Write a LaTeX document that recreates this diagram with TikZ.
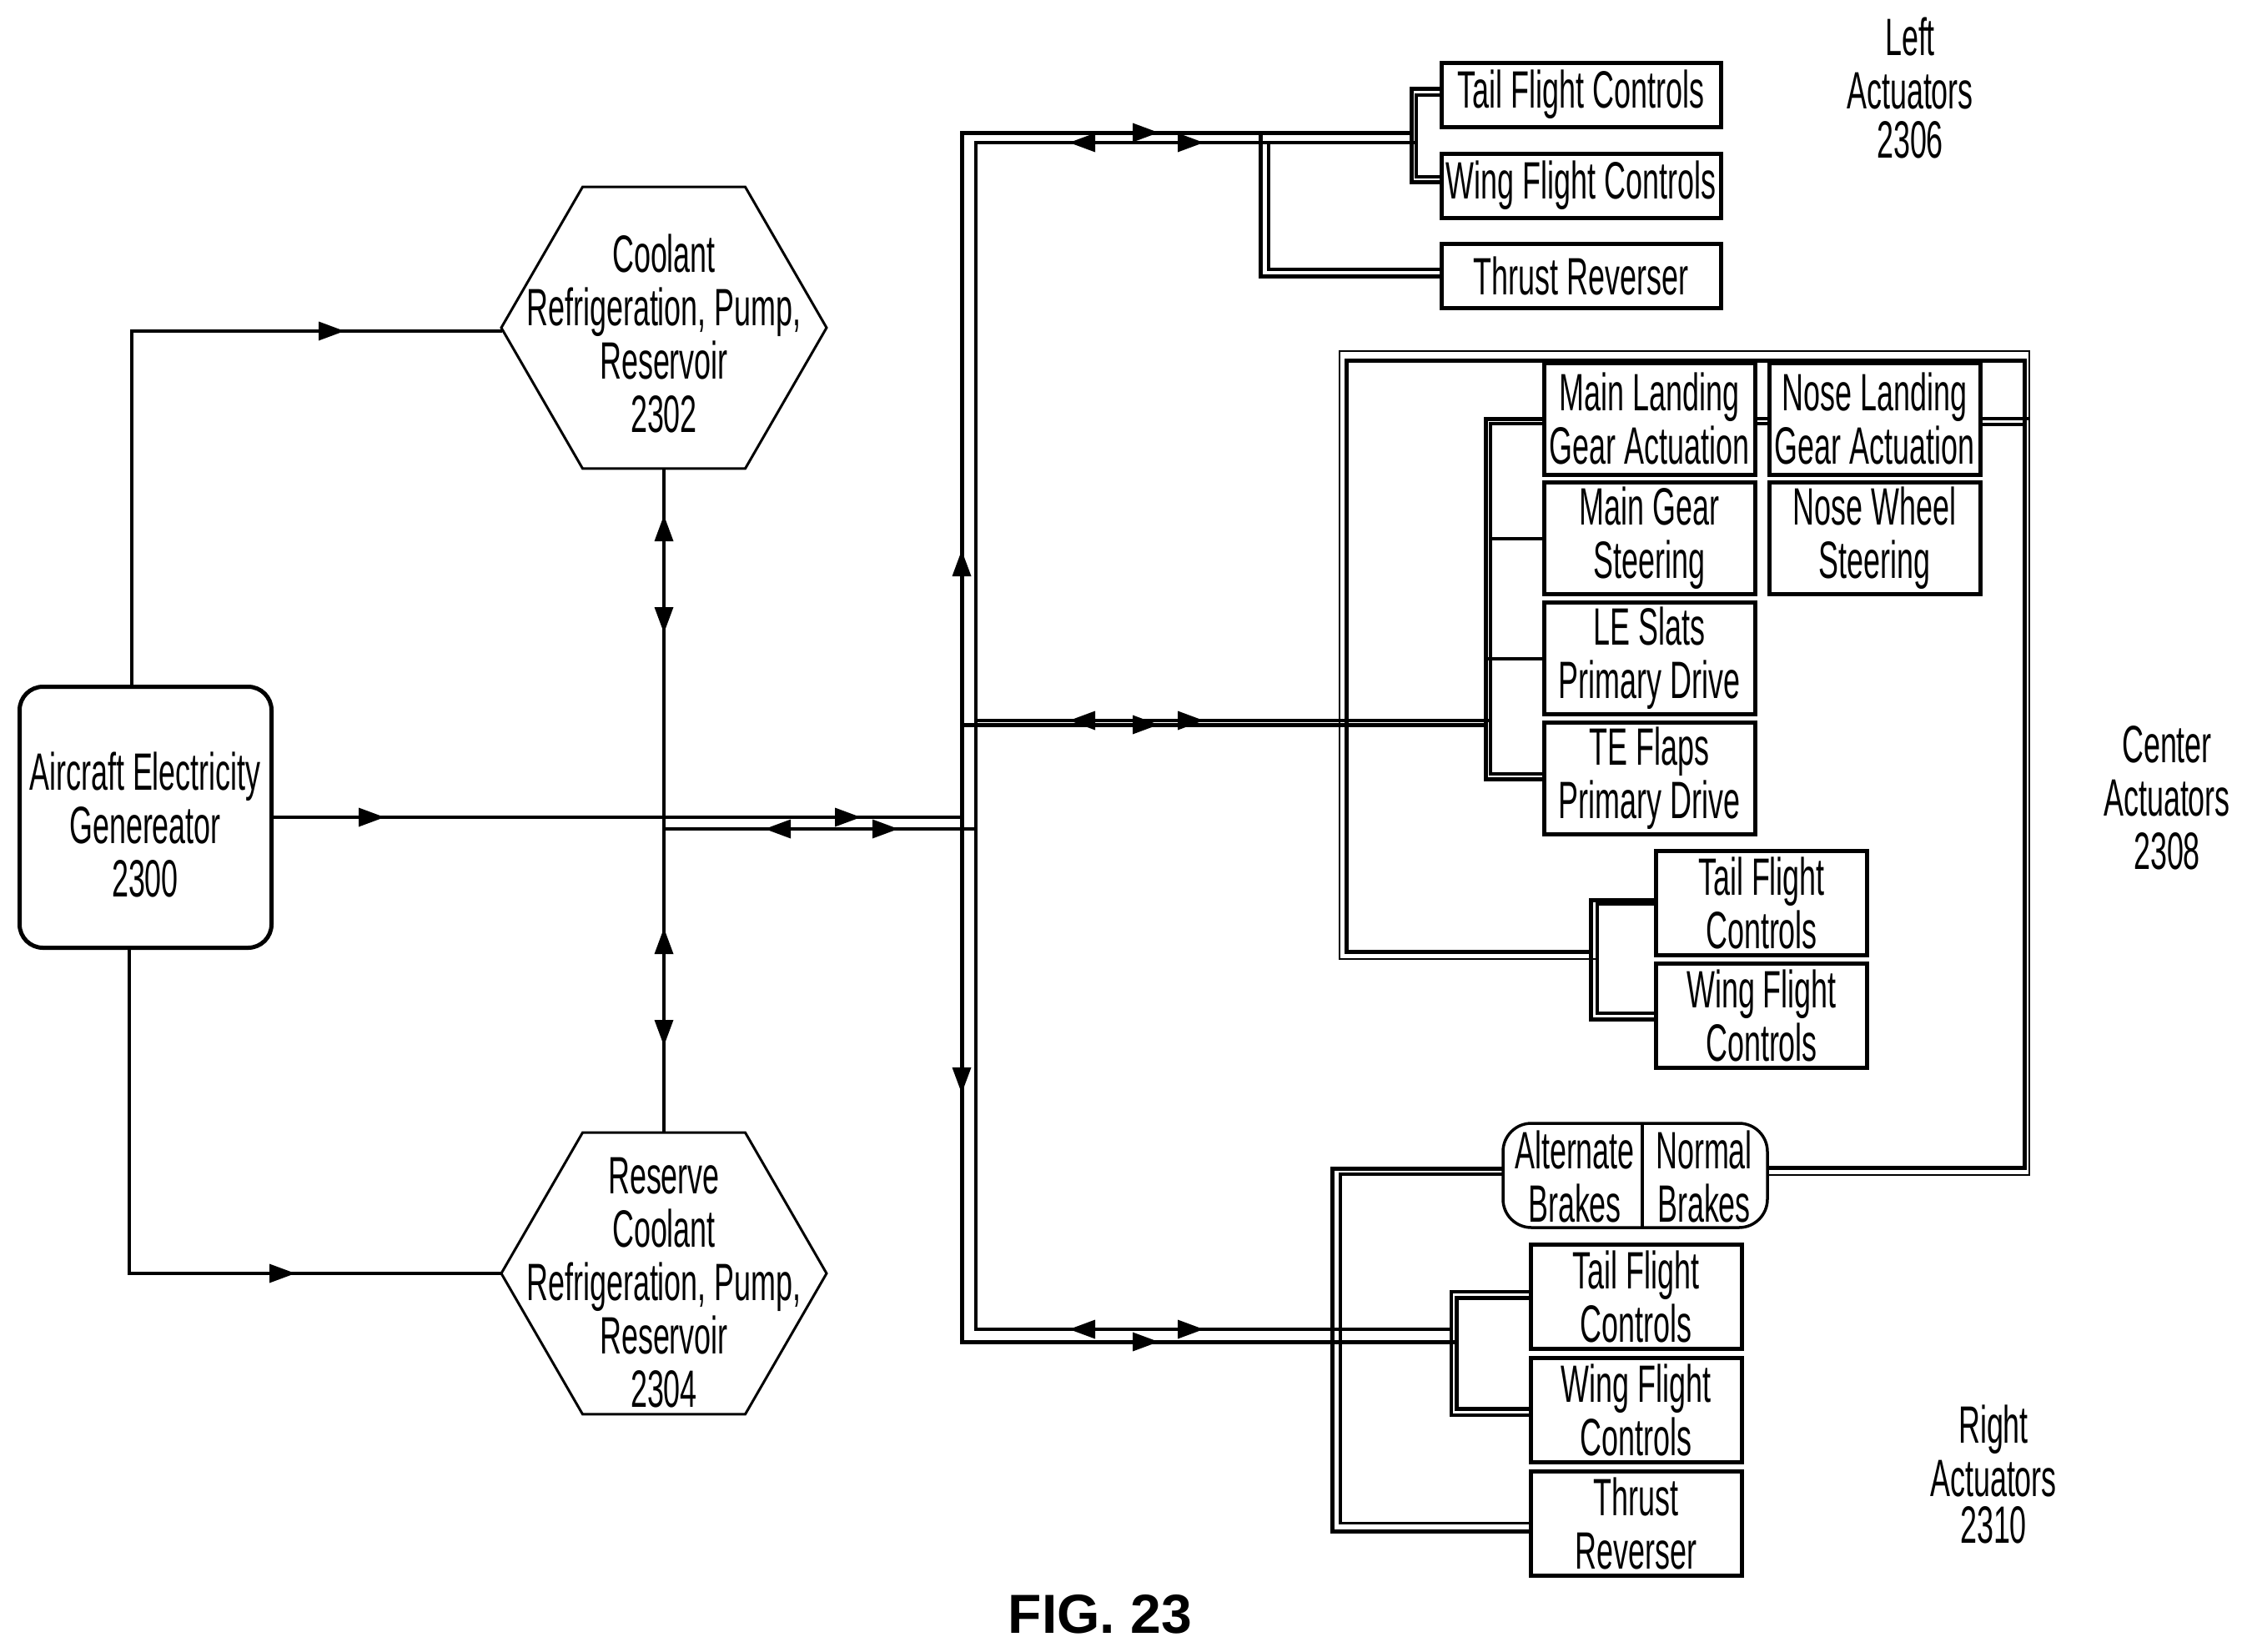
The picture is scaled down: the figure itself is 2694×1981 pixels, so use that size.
\documentclass[tikz,border=0pt]{standalone}
\usepackage{fontspec}
\usetikzlibrary{shapes.geometric}
\newfontfamily\actfont[FakeStretch=0.57]{Liberation Sans}
\newfontfamily\figfont{Liberation Sans}
\newcommand{\tipat}[3]{\fill[shift={(#1,#2)},rotate=#3] (0,-11.5) -- (31,0) -- (0,11.5) -- cycle;}
\begin{document}
\begin{tikzpicture}[x=0.5pt,y=-0.5pt,
           text_style/.style={font=\actfont\fontsize{31.5}{32}\selectfont,align=center,inner sep=0pt},
           box_style/.style={text_style,rectangle,draw=black,line width=2.5pt,minimum width=126.5pt,minimum height=62.5pt,outer sep=0pt},
           wide_box_style/.style={box_style,minimum width=167.5pt,minimum height=38.5pt},
           tall_box_style/.style={box_style,minimum height=67pt},
           hex_style/.style={regular polygon,regular polygon sides=6,draw=black,line width=1.5pt,minimum size=195pt,inner sep=0pt,outer sep=0pt},
           gen_style/.style={rectangle,rounded corners=14pt,draw=black,line width=2.5pt,minimum width=151pt,minimum height=156.5pt,outer sep=0pt},
           brake_style/.style={rectangle,rounded corners=17pt,draw=black,line width=1.75pt,minimum width=158.5pt,minimum height=62.5pt,outer sep=0pt},
           edge_style/.style={draw=black,line width=2pt},
           thick_style/.style={draw=black,line width=2.5pt},
           thin_style/.style={draw=black,line width=1.75pt},
           hair_style/.style={draw=black,line width=1.35pt}]
            \useasboundingbox (0,0) rectangle (2694,1981);
            % sources
            \node[gen_style] (gen) at (174.5, 980) {};
            \node[text_style] (gen_text) at (174, 989) {Aircraft Electricity\\Genereator\\2300};
            \node[hex_style] (hex_top) at (796, 393) {};
            \node[text_style] (hex_top_text) at (796, 400) {Coolant\\Refrigeration, Pump,\\Reservoir\\2302};
            \node[hex_style] (hex_bot) at (796, 1527) {};
            \node[text_style] (hex_bot_text) at (796, 1538) {Reserve\\Coolant\\Refrigeration, Pump,\\Reservoir\\2304};
            % left actuators
            \node[wide_box_style] (tail_l) at (1895.5, 113.5) {Tail Flight Controls};
            \node[wide_box_style] (wing_l) at (1895.5, 222.5) {Wing Flight Controls};
            \node[wide_box_style] (thrust_l) at (1895.5, 331) {Thrust Reverser};
            % center actuators
            \node[tall_box_style] (main_act) at (1977.5, 502) {Main Landing\\Gear Actuation};
            \node[tall_box_style] (nose_act) at (2247.5, 502) {Nose Landing\\Gear Actuation};
            \node[tall_box_style] (main_steer) at (1977.5, 645.5) {Main Gear\\Steering};
            \node[tall_box_style] (nose_steer) at (2247.5, 645.5) {Nose Wheel\\Steering};
            \node[tall_box_style] (le_slats) at (1977.5, 789.5) {LE Slats\\Primary Drive};
            \node[tall_box_style] (te_flaps) at (1977.5, 933.5) {TE Flaps\\Primary Drive};
            \node[box_style] (tail_c) at (2112, 1082.5) {Tail Flight\\Controls};
            \node[box_style] (wing_c) at (2112, 1218) {Wing Flight\\Controls};
            \node[brake_style] (brakes) at (1960.5, 1409.5) {};
            \node[text_style] (alt_brakes) at (1888, 1411) {Alternate\\Brakes};
            \node[text_style] (norm_brakes) at (2043, 1411) {Normal\\Brakes};
            % right actuators
            \node[box_style] (tail_r) at (1961.5, 1554.5) {Tail Flight\\Controls};
            \node[box_style] (wing_r) at (1961.5, 1690.5) {Wing Flight\\Controls};
            \node[box_style] (thrust_r) at (1961.5, 1826.5) {Thrust\\Reverser};
            % group labels
            \node[text_style] (left_lab) at (2290, 106) {Left\\Actuators\\[-2.5pt]2306};
            \node[text_style] (center_lab) at (2598, 957) {Center\\Actuators\\2308};
            \node[text_style] (right_lab) at (2390, 1768) {Right\\Actuators\\[-4pt]2310};
            \node[font=\figfont\bfseries\fontsize{33}{36}\selectfont,inner sep=0pt] (fig_lab) at (1319, 1936) {FIG. 23};
            % bus corners
            \coordinate (gen_up) at (158, 821);
            \coordinate (gen_dn) at (155, 1139);
            \coordinate (hex_top_in) at (602, 397);
            \coordinate (top_k) at (1692, 159);
            \coordinate (top_k0) at (1153, 159);
            \coordinate (top_n) at (1698, 171);
            \coordinate (top_n0) at (1170, 171);
            \coordinate (low_k) at (1746, 1609);
            \coordinate (low_k0) at (1153, 1609);
            \coordinate (low_n) at (1740, 1594);
            \coordinate (low_n0) at (1170, 1594);
            \coordinate (mid_k) at (1781, 869);
            \coordinate (mid_k0) at (1153, 869);
            \coordinate (mid_n) at (1787, 864);
            \coordinate (mid_n0) at (1170, 864);
            \coordinate (feed_k) at (1153, 980);
            \coordinate (feed_n) at (1170, 994);
            \coordinate (feed_n0) at (796, 994);
            % stubs at the boxes
            \coordinate (tail_l_k) at (1728, 106);
            \coordinate (tail_l_n) at (1728, 114);
            \coordinate (wing_l_k) at (1728, 218);
            \coordinate (wing_l_n) at (1728, 212);
            \coordinate (thrust_l_j) at (1511, 159);
            \coordinate (thrust_l_i) at (1521, 171);
            \coordinate (thrust_l_n) at (1728, 323);
            \coordinate (main_act_n) at (1851, 508);
            \coordinate (te_flaps_k) at (1851, 934);
            \coordinate (te_flaps_n) at (1851, 928);
            \coordinate (main_act_e) at (2104, 508);
            \coordinate (nose_act_w) at (2121, 508);
            \coordinate (nose_act_e) at (2374, 509);
            \coordinate (frame_j) at (2433, 502);
            \coordinate (frame_i) at (2427, 509);
            \coordinate (tail_c_k) at (1986, 1079);
            \coordinate (tail_c_n) at (1986, 1084);
            \coordinate (wing_c_k) at (1986, 1222);
            \coordinate (wing_c_n) at (1986, 1215);
            \coordinate (tail_r_n) at (1835, 1549);
            \coordinate (tail_r_k) at (1835, 1556);
            \coordinate (wing_r_k) at (1835, 1689);
            \coordinate (wing_r_n) at (1835, 1697);
            \coordinate (thrust_r_k) at (1835, 1836);
            % center frame and brakes
            \coordinate (fk0) at (1907, 1141);
            \coordinate (fk1) at (1614, 1141);
            \coordinate (fk2) at (1614, 432);
            \coordinate (fk3) at (2427, 432);
            \coordinate (fk4) at (2427, 1400);
            \coordinate (fk5) at (2119, 1400);
            \coordinate (fn0) at (1915, 1150);
            \coordinate (fn1) at (1606, 1150);
            \coordinate (fn2) at (1606, 421);
            \coordinate (fn3) at (2433, 421);
            \coordinate (fn4) at (2433, 1409);
            \coordinate (fn5) at (2119, 1409);
            \coordinate (bk0) at (1802, 1401);
            \coordinate (bk1) at (1597, 1401);
            \coordinate (bk2) at (1597, 1836);
            \coordinate (bn0) at (1802, 1408);
            \coordinate (bn1) at (1607, 1408);
            \coordinate (bn2) at (1607, 1826.5);
            \coordinate (div_t) at (1969, 1347);
            \coordinate (div_b) at (1969, 1472);
            % connectors
            \draw[edge_style] (gen_up) |- (hex_top_in);
            \draw[edge_style] (gen_dn) |- (hex_bot.west);
            \draw[edge_style] (gen.east) -- (feed_k);
            \draw[edge_style] (hex_top.south) -- (hex_bot.north);
            \draw[thin_style] (feed_n0) -- (feed_n);
            \draw[thick_style] (top_k) -- (top_k0) -- (low_k0) -- (low_k);
            \draw[thin_style] (top_n) -- (top_n0) -- (low_n0) -- (low_n);
            \draw[thick_style] (mid_k0) -- (mid_k);
            \draw[thin_style] (mid_n0) -- (mid_n);
            \draw[thick_style] (tail_l_k) -| (top_k) |- (wing_l_k);
            \draw[thin_style] (tail_l_n) -| (top_n) |- (wing_l_n);
            \draw[thick_style] (thrust_l_j) |- (thrust_l.west);
            \draw[thin_style] (thrust_l_i) |- (thrust_l_n);
            \draw[thick_style] (main_act.west) -| (mid_k) |- (te_flaps_k);
            \draw[thin_style] (main_act_n) -| (mid_n) |- (te_flaps_n);
            \draw[edge_style] (main_steer.west) -- (main_steer.west -| mid_n);
            \draw[edge_style] (le_slats.west) -- (le_slats.west -| mid_k);
            \draw[thin_style] (main_act.east) -- (nose_act.west);
            \draw[thin_style] (main_act_e) -- (nose_act_w);
            \draw[thin_style] (nose_act.east) -- (frame_j);
            \draw[thin_style] (nose_act_e) -- (frame_i);
            \draw[thick_style] (tail_c_k) -| (fk0) |- (wing_c_k);
            \draw[thin_style] (tail_c_n) -| (fn0) |- (wing_c_n);
            \draw[thick_style] (fk0) -- (fk1) -- (fk2) -- (fk3) -- (fk4) -- (fk5);
            \draw[hair_style] (fn0) -- (fn1) -- (fn2) -- (fn3) -- (fn4) -- (fn5);
            \draw[thick_style] (bk0) -- (bk1) -- (bk2) -- (thrust_r_k);
            \draw[thin_style] (bn0) -- (bn1) -- (bn2) -- (thrust_r.west);
            \draw[thick_style] (tail_r_k) -| (low_k) |- (wing_r_k);
            \draw[thin_style] (tail_r_n) -| (low_n) |- (wing_r_n);
            \draw[thin_style] (div_t) -- (div_b);
            % arrowheads
            \tipat{382}{397}{0}
            \tipat{323}{1527}{0}
            \tipat{430}{980}{0}
            \tipat{796}{649}{90}
            \tipat{796}{728}{-90}
            \tipat{796}{1144}{90}
            \tipat{796}{1223}{-90}
            \tipat{1153}{691}{90}
            \tipat{1153}{1280}{-90}
            \tipat{948}{994}{180}
            \tipat{1001}{980}{0}
            \tipat{1046}{994}{0}
            \tipat{1313}{171}{180}
            \tipat{1358}{159}{0}
            \tipat{1412}{171}{0}
            \tipat{1313}{864}{180}
            \tipat{1358}{869}{0}
            \tipat{1412}{864}{0}
            \tipat{1313}{1594}{180}
            \tipat{1358}{1609}{0}
            \tipat{1412}{1594}{0}
\end{tikzpicture}
\end{document}
